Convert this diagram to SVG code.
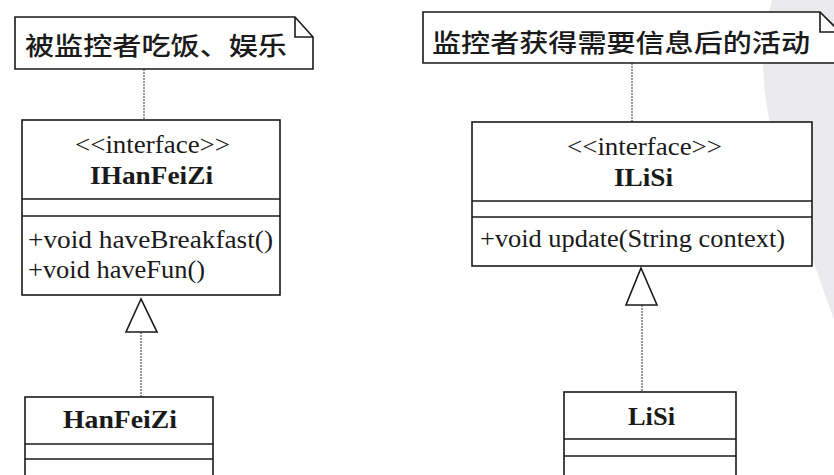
<svg xmlns="http://www.w3.org/2000/svg" width="834" height="475" viewBox="0 0 834 475">
<style>
.box{fill:#fff;stroke:#1a1a1a;stroke-width:1.6}
.ln{stroke:#1a1a1a;stroke-width:1.6;fill:none}
.dot{stroke:#444;stroke-width:1.1;stroke-dasharray:2 1;fill:none}
.tri{fill:#fff;stroke:#1a1a1a;stroke-width:1.6}
.t{font-family:"Liberation Serif","Times New Roman",serif;font-size:25px;fill:#1a1a1a}
.b{font-weight:bold}
.cjk{font-family:"Noto Sans CJK SC","Noto Sans",sans-serif;font-size:25px;font-weight:500;fill:#1a1a1a}
</style>
<rect width="834" height="475" fill="#fff"/>
<path d="M772 0 C756 60 762 110 790 195 L834 320 L834 0 Z" fill="#ebebee"/>

<g id="connectors">
<line class="dot" x1="144" y1="69" x2="144" y2="120"/>
<line class="dot" x1="632" y1="63" x2="632" y2="122"/>
<line class="dot" x1="141" y1="332" x2="141" y2="397"/>
<polygon class="tri" points="141,299 126,332 157,332"/>
<line class="dot" x1="642" y1="305" x2="642" y2="392"/>
<polygon class="tri" points="641,268 626,305 657,305"/>
</g>

<g id="note1">
<path class="box" d="M15 17 H295 L313 37 V69 H15 Z"/>
<path class="ln" d="M295 17 V37 H313"/>
<text class="cjk" x="25" y="55" textLength="262" lengthAdjust="spacingAndGlyphs">被监控者吃饭、娱乐</text>
</g>

<g id="note2">
<path class="box" d="M423 12 H820 L840 32 V63 H423 Z"/>
<path class="ln" d="M820 12 V32 H840"/>
<text class="cjk" x="432" y="52" textLength="378" lengthAdjust="spacingAndGlyphs">监控者获得需要信息后的活动</text>
</g>

<g id="IHanFeiZi">
<rect class="box" x="22" y="120" width="258" height="175"/>
<line class="ln" x1="22" y1="199" x2="280" y2="199"/>
<line class="ln" x1="22" y1="216" x2="280" y2="216"/>
<text class="t" x="75" y="153" textLength="155" lengthAdjust="spacingAndGlyphs">&lt;&lt;interface&gt;&gt;</text>
<text class="t b" x="90" y="184" textLength="123" lengthAdjust="spacingAndGlyphs">IHanFeiZi</text>
<text class="t" x="28" y="248" textLength="245" lengthAdjust="spacingAndGlyphs">+void haveBreakfast()</text>
<text class="t" x="28" y="278" textLength="177" lengthAdjust="spacingAndGlyphs">+void haveFun()</text>
</g>

<g id="ILiSi">
<rect class="box" x="472" y="122" width="340" height="144"/>
<line class="ln" x1="472" y1="201" x2="812" y2="201"/>
<line class="ln" x1="472" y1="217" x2="812" y2="217"/>
<text class="t" x="567" y="155" textLength="155" lengthAdjust="spacingAndGlyphs">&lt;&lt;interface&gt;&gt;</text>
<text class="t b" x="614" y="186" textLength="59" lengthAdjust="spacingAndGlyphs">ILiSi</text>
<text class="t" x="480" y="247" textLength="305" lengthAdjust="spacingAndGlyphs">+void update(String context)</text>
</g>

<g id="HanFeiZi">
<rect class="box" x="25" y="397" width="188" height="90"/>
<line class="ln" x1="25" y1="444" x2="213" y2="444"/>
<line class="ln" x1="25" y1="459" x2="213" y2="459"/>
<text class="t b" x="63" y="428" textLength="114" lengthAdjust="spacingAndGlyphs">HanFeiZi</text>
</g>

<g id="LiSi">
<rect class="box" x="564" y="392" width="172" height="95"/>
<line class="ln" x1="564" y1="439" x2="736" y2="439"/>
<line class="ln" x1="564" y1="456" x2="736" y2="456"/>
<text class="t b" x="628" y="425" textLength="47" lengthAdjust="spacingAndGlyphs">LiSi</text>
</g>
</svg>
